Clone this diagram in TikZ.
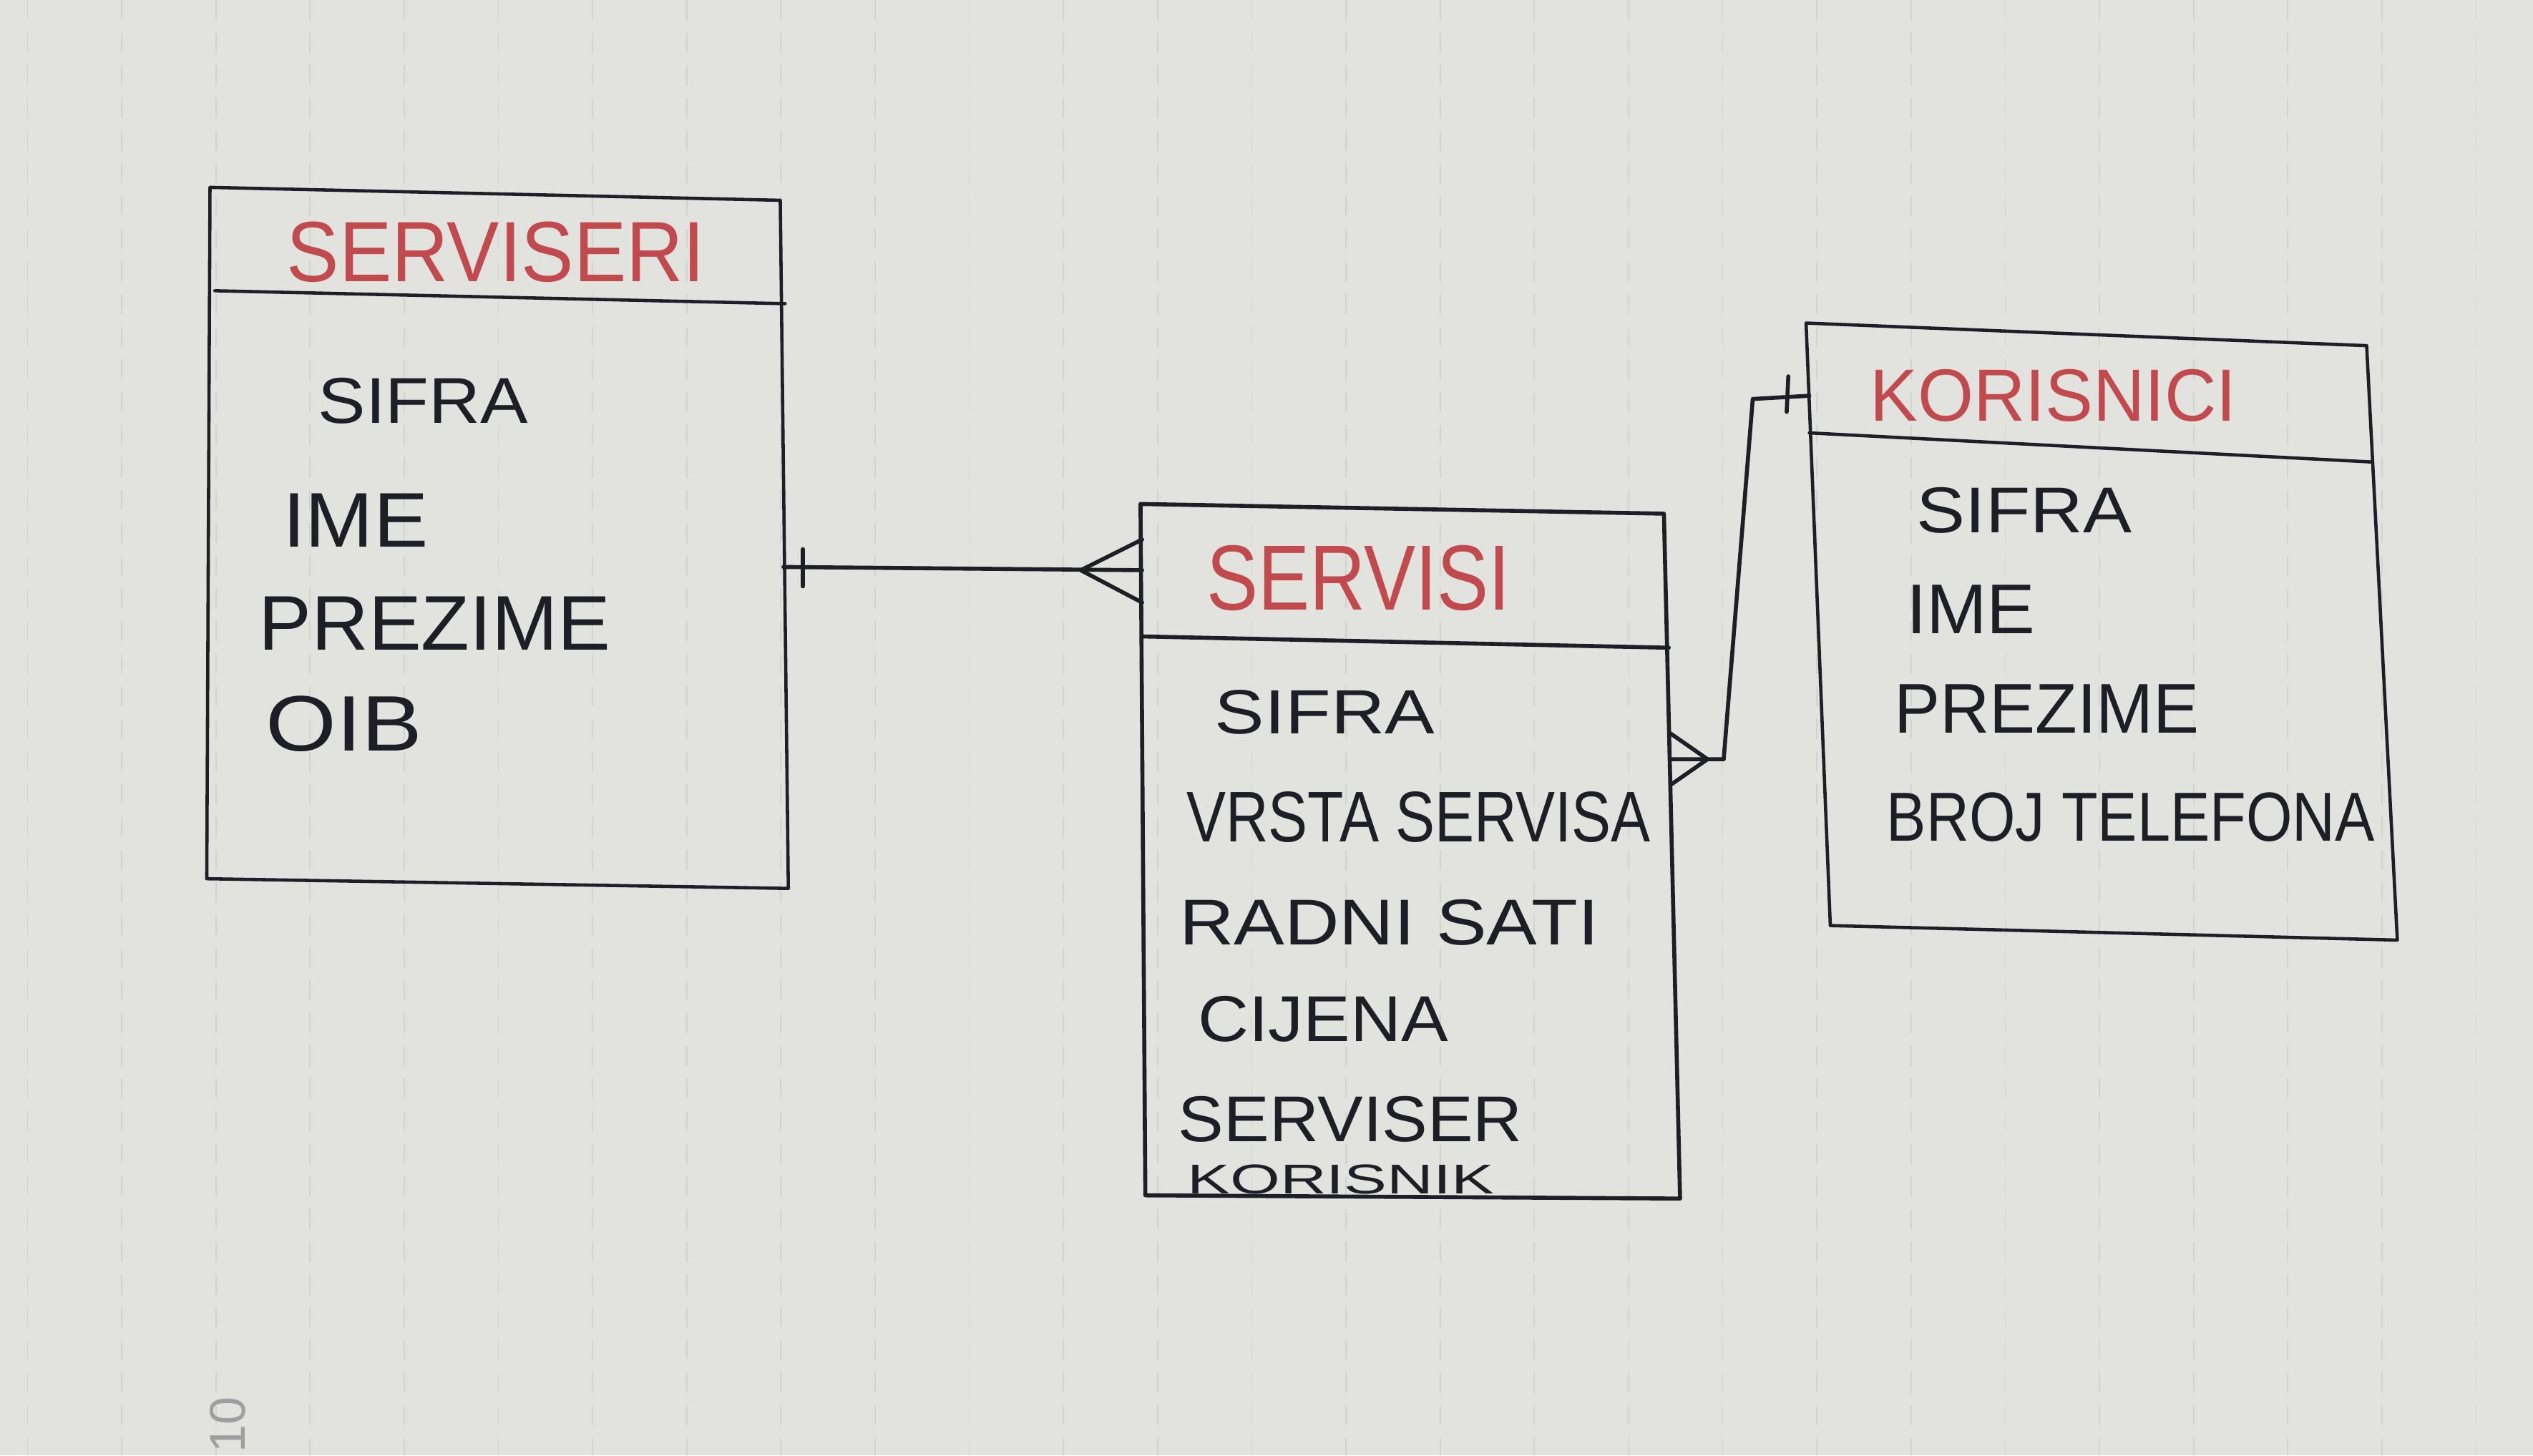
\documentclass[tikz,border=0pt]{standalone}
\usepackage{fontspec}
\setmainfont{Liberation Sans}
\usepackage{graphicx}
\usetikzlibrary{calc}
\newlength\upx
\setlength\upx{0.022577cm}
\newcommand\hw[3]{\resizebox{#1\upx}{#2\upx}{#3}}
\definecolor{paperc}{RGB}{226,226,222}
\definecolor{gridc}{RGB}{210,210,206}
\definecolor{inkc}{RGB}{30,30,38}
\definecolor{redc}{RGB}{192,74,78}
\begin{document}
\begin{tikzpicture}[x=0.022577cm,y=-0.022577cm,
  ink/.style={draw=inkc,line width=1.6pt,line cap=round,line join=round},
  tbl/.style={text=redc,inner sep=0pt,anchor=center},
  attr/.style={text=inkc,inner sep=0pt,anchor=center}]
\useasboundingbox (0,0) rectangle (1568,901);
\fill[paperc] (0,0) rectangle (1568,901);
\foreach \i in {0,...,26}
  \draw[gridc,line width=0.5pt,dash pattern=on 8pt off 5pt] ({17+58.3*\i},0) -- ({17+58.3*\i},901);
\node[rotate=90,text=gray!75,inner sep=0pt] (pg) at (141,882) {\fontsize{20}{20}\selectfont 10};

% ---- SERVISERI ----
\coordinate (a1) at (130,116);
\coordinate (a2) at (483,124);
\coordinate (a3) at (488,550);
\coordinate (a4) at (128,544);
\coordinate (ad1) at (133,180);
\coordinate (ad2) at (486,188);
\draw[ink,line width=1.3pt] (a1) -- (a2) -- (a3) -- (a4) -- cycle;
\draw[ink,line width=1.3pt] (ad1) -- (ad2);
\node[tbl] (t1) at (307,156) {\hw{259}{37}{SERVISERI}};
\node[attr] (s1) at (262,248) {\hw{130}{28}{SIFRA}};
\node[attr] (s2) at (220,322) {\hw{90}{33}{IME}};
\node[attr] (s3) at (269,386) {\hw{218}{33}{PREZIME}};
\node[attr] (s4) at (213,448) {\hw{97}{34}{OIB}};

% ---- SERVISI ----
\coordinate (b1) at (706,312);
\coordinate (b2) at (1030,318);
\coordinate (b3) at (1040,742);
\coordinate (b4) at (709,740);
\coordinate (bd1) at (707,394);
\coordinate (bd2) at (1033,401);
\draw[ink] (b1) -- (b2) -- (b3) -- (b4) -- cycle;
\draw[ink] (bd1) -- (bd2);
\node[tbl] (t2) at (841,358) {\hw{188}{40}{SERVISI}};
\node[attr] (v1) at (820,441) {\hw{136}{27}{SIFRA}};
\node[attr] (v2) at (878,506) {\hw{287}{31}{VRSTA SERVISA}};
\node[attr] (v3) at (860,571) {\hw{260}{28}{RADNI SATI}};
\node[attr] (v4) at (819,631) {\hw{155}{28}{CIJENA}};
\node[attr] (v5) at (836,693) {\hw{213}{28}{SERVISER}};
\node[attr] (v6) at (830,730) {\hw{190}{18}{KORISNIK}};

% ---- KORISNICI ----
\coordinate (c1) at (1118,200);
\coordinate (c2) at (1465,214);
\coordinate (c3) at (1484,582);
\coordinate (c4) at (1133,573);
\coordinate (cd1) at (1120,268);
\coordinate (cd2) at (1468,286);
\draw[ink,line width=1.3pt] (c1) -- (c2) -- (c3) -- (c4) -- cycle;
\draw[ink,line width=1.3pt] (cd1) -- (cd2);
\node[tbl] (t3) at (1271,245) {\hw{227}{32}{KORISNICI}};
\node[attr] (k1) at (1253,316) {\hw{133}{28}{SIFRA}};
\node[attr] (k2) at (1220,377) {\hw{80}{30}{IME}};
\node[attr] (k3) at (1267,439) {\hw{189}{30}{PREZIME}};
\node[attr] (k4) at (1319,506) {\hw{302}{30}{BROJ TELEFONA}};

% ---- SERVISERI -- SERVISI (one to many) ----
\coordinate (r1) at (485,351);
\coordinate (l2) at (707,353);
\draw[ink] (r1) -- (l2);
\draw[ink] ($(r1)+(12,-11)$) -- ($(r1)+(12,12)$);
\draw[ink] ($(l2)+(0,-19)$) -- ($(l2)+(-38,0)$) -- ($(l2)+(0,20)$);

% ---- SERVISI -- KORISNICI (many to one) ----
\coordinate (r2) at (1034,470);
\coordinate (m1) at (1067,470);
\coordinate (m2) at (1085,247);
\coordinate (l3) at (1120,245);
\draw[ink] (r2) -- (m1) -- (m2) -- (l3);
\draw[ink] ($(r2)+(0,-16)$) -- ($(r2)+(23,0)$) -- ($(r2)+(0,16)$);
\draw[ink] ($(l3)+(-13,-12)$) -- ($(l3)+(-14,10)$);
\end{tikzpicture}
\end{document}
